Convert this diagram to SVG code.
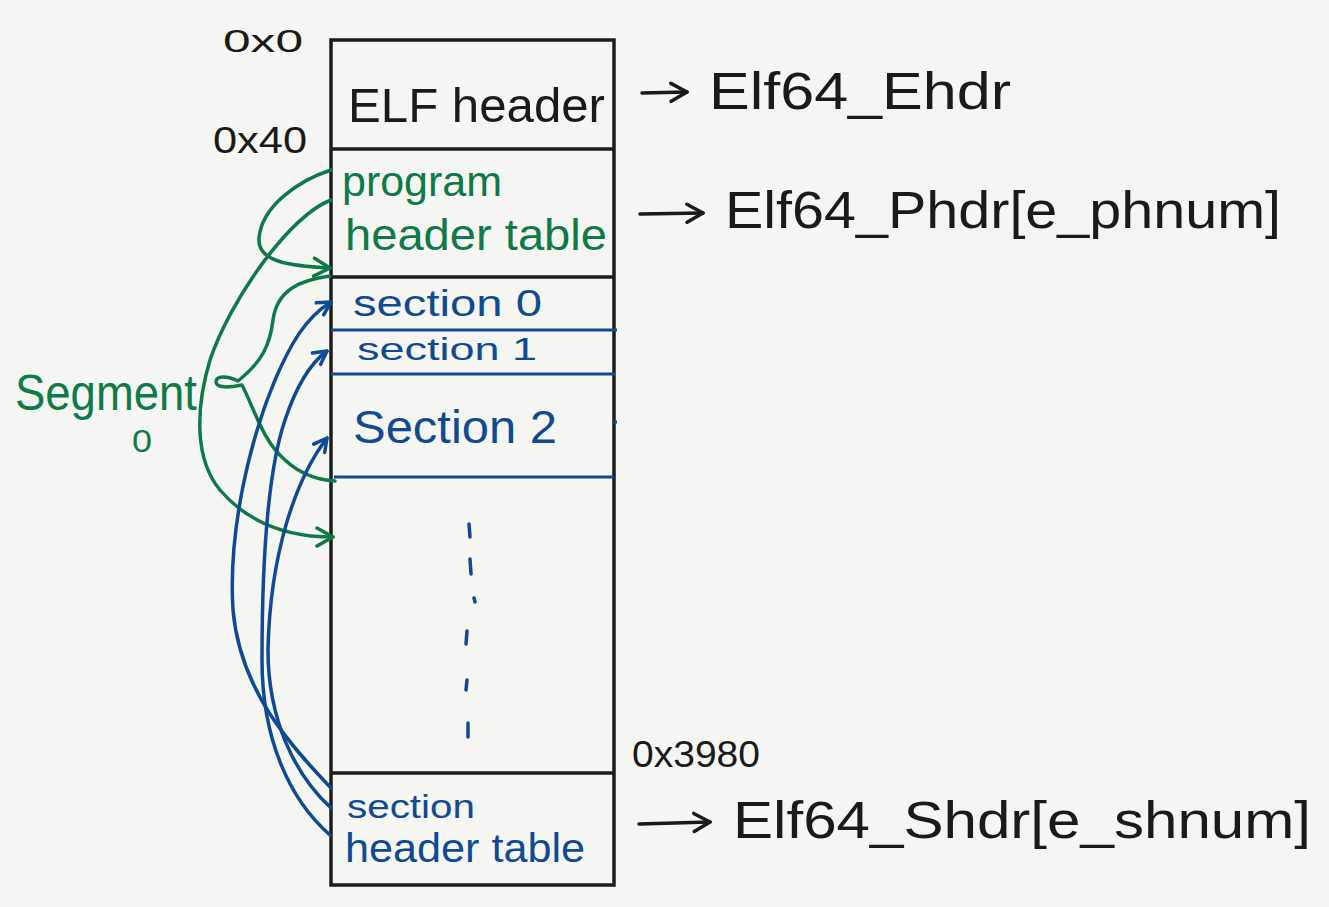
<svg xmlns="http://www.w3.org/2000/svg" width="1329" height="907" viewBox="0 0 1329 907">
  <defs>
    <style>
      .bg { fill: #f5f5f1; }
      .box { fill: none; stroke: #1c1c1c; stroke-width: 3.5; }
      .div { stroke: #1c1c1c; stroke-width: 3.5; }
      .bdiv { stroke: #0f4a92; stroke-width: 3; }
      .t { font-family: "Liberation Sans", "DejaVu Sans", sans-serif; }
      .k { fill: #1a1a1a; }
      .g { fill: #0e7a48; }
      .b { fill: #0f4a92; }
      .gl { fill: none; stroke: #0e7a48; stroke-width: 3.5; stroke-linecap: round; stroke-linejoin: round; }
      .bl { fill: none; stroke: #0f4a92; stroke-width: 3.5; stroke-linecap: round; stroke-linejoin: round; }
      .kl { fill: none; stroke: #1a1a1a; stroke-width: 3.5; stroke-linecap: round; stroke-linejoin: round; }
    </style>
    <marker id="ag" viewBox="-18 -11 20 22" refX="0" refY="0" markerWidth="20" markerHeight="22" markerUnits="userSpaceOnUse" orient="auto">
      <path d="M-16,-9 L0,0 L-16,9" fill="none" stroke="#0e7a48" stroke-width="3.5" stroke-linecap="round" stroke-linejoin="round"/>
    </marker>
    <marker id="ab" viewBox="-16 -10 18 20" refX="0" refY="0" markerWidth="18" markerHeight="20" markerUnits="userSpaceOnUse" orient="auto">
      <path d="M-13,-7 L0,0 L-13,7" fill="none" stroke="#0f4a92" stroke-width="3.5" stroke-linecap="round" stroke-linejoin="round"/>
    </marker>
    <marker id="ak" viewBox="-18 -12 20 24" refX="0" refY="0" markerWidth="20" markerHeight="24" markerUnits="userSpaceOnUse" orient="auto">
      <path d="M-16,-9 L0,0 L-16,9" fill="none" stroke="#1a1a1a" stroke-width="3.5" stroke-linecap="round" stroke-linejoin="round"/>
    </marker>
  </defs>

  <rect class="bg" x="0" y="0" width="1329" height="907"/>

  <!-- addresses -->
  <g id="addresses">
    <text class="t k" x="223" y="52" font-size="32" textLength="80" lengthAdjust="spacingAndGlyphs">0x0</text>
    <text class="t k" x="213" y="153" font-size="36" textLength="94" lengthAdjust="spacingAndGlyphs">0x40</text>
    <text class="t k" x="632" y="767" font-size="36" textLength="128" lengthAdjust="spacingAndGlyphs">0x3980</text>
  </g>

  <!-- outer box -->
  <rect class="box" x="331" y="40" width="283" height="845"/>

  <g id="elf-header">
    <line class="div" x1="331" y1="149" x2="614" y2="149"/>
    <text class="t k" x="348" y="122" font-size="48" textLength="257" lengthAdjust="spacingAndGlyphs">ELF header</text>
  </g>

  <g id="program-header-table">
    <line class="div" x1="331" y1="277" x2="614" y2="277"/>
    <text class="t g" x="342" y="196" font-size="42" textLength="160" lengthAdjust="spacingAndGlyphs">program</text>
    <text class="t g" x="345" y="250" font-size="44" textLength="262" lengthAdjust="spacingAndGlyphs">header table</text>
  </g>

  <g id="section0">
    <line class="bdiv" x1="331" y1="330" x2="617" y2="330"/>
    <text class="t b" x="353" y="316" font-size="36" textLength="189" lengthAdjust="spacingAndGlyphs">section 0</text>
  </g>

  <g id="section1">
    <line class="bdiv" x1="331" y1="374" x2="615" y2="374"/>
    <text class="t b" x="357" y="360" font-size="32" textLength="180" lengthAdjust="spacingAndGlyphs">section 1</text>
  </g>

  <g id="section2">
    <line class="bdiv" x1="334" y1="477" x2="614" y2="477"/>
    <line class="bdiv" x1="612" y1="422" x2="617" y2="422"/>
    <text class="t b" x="353" y="443" font-size="46" textLength="204" lengthAdjust="spacingAndGlyphs">Section 2</text>
  </g>

  <g id="ellipsis">
    <line class="bl" x1="469" y1="524" x2="470" y2="537"/>
    <line class="bl" x1="470" y1="559" x2="471" y2="574"/>
    <line class="bl" x1="474" y1="598" x2="475" y2="602"/>
    <line class="bl" x1="467" y1="631" x2="466" y2="644"/>
    <line class="bl" x1="467" y1="680" x2="466" y2="690"/>
    <line class="bl" x1="468" y1="723" x2="468" y2="737"/>
  </g>

  <g id="section-header-table">
    <line class="div" x1="331" y1="773" x2="614" y2="773"/>
    <text class="t b" x="347" y="818" font-size="34" textLength="128" lengthAdjust="spacingAndGlyphs">section</text>
    <text class="t b" x="345" y="862" font-size="40" textLength="240" lengthAdjust="spacingAndGlyphs">header table</text>
  </g>

  <g id="segment0">
    <text class="t g" x="15" y="410" font-size="50" textLength="182" lengthAdjust="spacingAndGlyphs">Segment</text>
    <text class="t g" x="132" y="452" font-size="32" textLength="20" lengthAdjust="spacingAndGlyphs">0</text>
  </g>

  <g id="struct-labels">
    <text class="t k" x="709" y="109" font-size="52" textLength="302" lengthAdjust="spacingAndGlyphs">Elf64_Ehdr</text>
    <text class="t k" x="725" y="228" font-size="52" textLength="556" lengthAdjust="spacingAndGlyphs">Elf64_Phdr[e_phnum]</text>
    <text class="t k" x="733" y="838" font-size="52" textLength="578" lengthAdjust="spacingAndGlyphs">Elf64_Shdr[e_shnum]</text>
  </g>

  <g id="connectors">
    <!-- black arrows to struct labels -->
    <path class="kl" d="M642,93 L687,92" marker-end="url(#ak)"/>
    <path class="kl" d="M640,214 L703,213" marker-end="url(#ak)"/>
    <path class="kl" d="M639,824 L710,822" marker-end="url(#ak)"/>

    <!-- green segment connectors -->
    <path class="gl" d="M331,170 C300,180 262,205 259,238 C257,262 290,266 330,268" marker-end="url(#ag)"/>
    <path class="gl" d="M331,200 C290,215 230,300 210,360 C195,410 195,460 220,490 C250,525 290,537 333,537" marker-end="url(#ag)"/>
    <path class="gl" d="M330,276 C300,280 277,290 273,320 C270,345 262,362 238,381 C228,376 216,375 216,382 C217,389 232,387 242,385 C255,410 262,440 285,460 C300,474 318,480 335,481"/>

    <!-- blue section header connectors -->
    <path class="bl" d="M331,788 C290,745 240,690 233,610 C228,530 250,440 275,380 C290,345 305,318 331,302" marker-end="url(#ab)"/>
    <path class="bl" d="M330,835 C290,800 262,740 262,660 C262,560 268,470 285,420 C295,390 308,365 327,351" marker-end="url(#ab)"/>
    <path class="bl" d="M331,808 C295,775 268,720 268,650 C270,555 295,480 327,438" marker-end="url(#ab)"/>
  </g>
</svg>
